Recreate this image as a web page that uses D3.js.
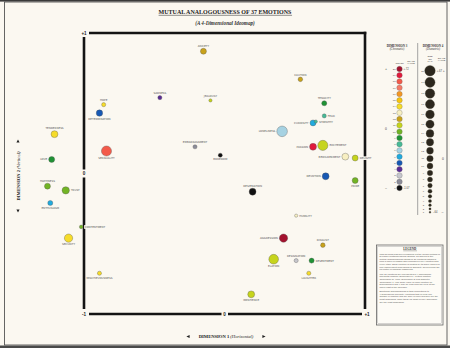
<!DOCTYPE html>
<html><head><meta charset="utf-8">
<script src="https://cdn.jsdelivr.net/npm/d3@7"></script>
<style>body{margin:0;background:#fbf8f1;overflow:hidden}svg{display:block}</style>
</head><body><svg id="c" width="450" height="348"></svg>
<script>
// ---------- DATA ----------
const emotions = ["ANXIETY","SADNESS","JEALOUSY","HOPE","DETERMINATION","SENSUALITY","EMBARRASSMENT","BOREDOM",
  "CAUTION","TENACITY","FEAR","CURIOSITY","SYMPATHY","LONELINESS","PASSION","EXCITEMENT","BEWILDERMENT","DELIGHT",
  "DEVOTION","PRIDE","DESPERATION","HUMILITY","AGGRESSION","DISGUST","ELATION","RESIGNATION","RESENTMENT","LAUGHTER",
  "IMPATIENCE","MISCHIEVOUSNESS","CONTENTMENT","TENDERNESS","LOVE","HAPPINESS","TRUST","ENTHUSIASM","SECURITY"];
// Dimension 1 (horizontal) scale values
const dim1 = [-0.15,-0.46,-0.10,-0.86,-0.89,-0.84,-0.21,-0.03,
  0.54,0.71,0.71,0.63,0.65,0.41,0.63,0.70,0.86,0.93,
  0.72,0.93,0.20,0.51,0.42,0.70,0.35,0.51,0.62,0.60,
  0.19,-0.89,-1.02,-1.21,-1.23,-1.26,-1.13,-1.24,-1.11];
// Dimension 2 (vertical) scale values
const dim2 = [0.87,0.54,0.52,0.49,0.43,0.16,0.19,0.13,
  0.67,0.50,0.41,0.36,0.37,0.30,0.19,0.20,0.12,0.11,
  -0.02,-0.05,-0.13,-0.30,-0.46,-0.51,-0.61,-0.62,-0.62,-0.71,
  -0.86,-0.71,-0.38,0.28,0.10,-0.09,-0.12,-0.21,-0.46];
// Dimension 3 (chromatic) step, 1..20
const dim3 = [12,4,11,14,5,18,2,1,
  12,9,8,6,8,7,19,11,13,11,
  5,10,1,13,20,12,11,3,9,14,
  11,14,10,14,9,10,10,6,14];
// Dimension 4 (diametric) step, 1..20
const dim4 = [10,6,4,6,11,19,6,6,
  7,8,6,10,4,20,12,19,12,10,
  12,10,12,4,15,7,18,6,8,6,
  12,6,5,12,10,10,13,8,15];
const labelSide = ["t","t","t","t","b","b","t","b",
  "t","t","r","l","r","l","l","r","l","r",
  "l","b","t","r","l","t","b","t","r","b",
  "b","b","r","t","l","t","r","b","b"];
const scaleSteps = d3.range(20, 0, -1);
const colorKey = ["#111111","#8c8c98","#c6c6cc","#5a2c94","#1658b4","#20aade","#a6d2e2","#46ba96","#1f9234","#72b424",
  "#c6d41c","#c9a21a","#f7efc2","#f6dc2a","#f8c40c","#f49622","#f57a66","#f35a4a","#e11a3c","#a3122e"];
const axisTickLabels = [{v:"+1",x:-1,y:1},{v:"0",x:-1,y:0},{v:"-1",x:-1,y:-1},{v:"0",x:0,y:-1},{v:"+1",x:1,y:-1}];
const dim3Ends = ["+.72","-1.07"];
const dim4Ends = ["+.67","-.64"];
const legendParas = [
 "This ideomap has been produced via the Crespi Method of Dynamic Multidimensional Scaling, as applied to the mutual analogousness ratings of 37 emotions obtained from a panel of judges who compared every emotion with every other. Each emotion is located by its scale values on four independent dimensions of similarity, derived from the full matrix of pairwise judgments.",
 "The 37 emotions are represented in 4 dimensions: horizontal position (Dimension 1), vertical position (Dimension 2), color (Dimension 3) and diameter (Dimension 4). The scale value of each emotion on Dimensions 3 and 4 may be read from the keys at the upper right of the ideomap.",
 "Emotional analogousness is thus proportional to 4-dimensional proximity: emotions that lie near one another in position and are alike in color and size are the most analogous, while those far apart on any dimension are the least analogous."
];

// ---------- DRAW ----------
const BG = "#fbf8f1";
const svg = d3.select("#c");
svg.append("rect").attr("width",450).attr("height",348).attr("fill",BG);
svg.append("rect").attr("x",0).attr("y",0).attr("width",450).attr("height",1.6).attr("fill","#3a3a3a");
svg.append("rect").attr("x",0).attr("y",345.5).attr("width",450).attr("height",2.5).attr("fill","#4a4a4a");
svg.append("rect").attr("x",4.5).attr("y",2).attr("width",442.5).attr("height",343).attr("fill","none").attr("stroke","#555").attr("stroke-width",0.9);

// Title
const title = svg.append("text").attr("x",225).attr("y",14).attr("text-anchor","middle")
  .attr("font-family","Liberation Serif, serif").attr("font-weight","bold").attr("font-size",6)
  .attr("fill","#222").text("MUTUAL ANALOGOUSNESS OF 37 EMOTIONS");
const tb = title.node().getBBox();
svg.append("line").attr("x1",tb.x).attr("x2",tb.x+tb.width).attr("y1",15.3).attr("y2",15.3).attr("stroke","#222").attr("stroke-width",0.5);
svg.append("text").attr("x",225).attr("y",25).attr("text-anchor","middle")
  .attr("font-family","Liberation Serif, serif").attr("font-weight","bold").attr("font-style","italic").attr("font-size",5.2)
  .attr("fill","#333").text("(A 4-Dimensional Ideomap)");

const x = d3.scaleLinear().domain([-1,1]).range([84,365]);
const y = d3.scaleLinear().domain([-1,1]).range([314,33]);
const color = d3.scaleOrdinal().domain(d3.range(1,21)).range(colorKey);
const rScale = d3.scaleLinear().domain([1,20]).range([0.9,5.3]);

// Frame
const frame = svg.append("g").attr("stroke","#141414").attr("stroke-width",2.6).attr("fill","none");
const seg = (x1,y1,x2,y2)=>frame.append("line").attr("x1",x1).attr("y1",y1).attr("x2",x2).attr("y2",y2);
seg(x(-1)+5, y(1), x(1)+1.3, y(1));
seg(x(1), y(1)-1.3, x(1), y(-1)-5);
seg(x(-1)+5, y(-1), x(0)-3, y(-1));
seg(x(0)+3.5, y(-1), x(1)-3, y(-1));
seg(x(-1), y(1)+4, x(-1), y(0)-4);
seg(x(-1), y(0)+4, x(-1), y(-1)-5);
svg.append("g").selectAll("text").data(axisTickLabels).join("text")
  .attr("x",d=>x(d.x)+(d.x===1?2:0)).attr("y",d=>y(d.y)+1.7).attr("text-anchor","middle")
  .attr("font-family","Liberation Sans, sans-serif").attr("font-weight","bold").attr("font-size",4.6).attr("fill","#222")
  .text(d=>d.v);

// Axis titles
function arrow(g, cx, cy, dir){
  const s=1.6; let p;
  if(dir==='l') p=[[cx-s,cy],[cx+s,cy-s],[cx+s,cy+s]];
  if(dir==='r') p=[[cx+s,cy],[cx-s,cy-s],[cx-s,cy+s]];
  if(dir==='u') p=[[cx,cy-s],[cx-s,cy+s],[cx+s,cy+s]];
  if(dir==='d') p=[[cx,cy+s],[cx-s,cy-s],[cx+s,cy-s]];
  g.append("path").attr("d","M"+p.join("L")+"Z").attr("fill","#222");
}
const xt = svg.append("text").attr("x",226).attr("y",338).attr("text-anchor","middle")
  .attr("font-family","Liberation Serif, serif").attr("font-size",4.6).attr("fill","#222");
xt.append("tspan").attr("font-weight","bold").text("DIMENSION 1 ");
xt.append("tspan").attr("font-style","italic").text("(Horizontal)");
arrow(svg, 188, 336.5, 'l'); arrow(svg, 264, 336.5, 'r');
const yt = svg.append("text").attr("transform","translate(19.5,176) rotate(-90)").attr("text-anchor","middle")
  .attr("font-family","Liberation Serif, serif").attr("font-size",4.6).attr("fill","#222");
yt.append("tspan").attr("font-weight","bold").text("DIMENSION 2 ");
yt.append("tspan").attr("font-style","italic").text("(Vertical)");
arrow(svg, 18, 141, 'u'); arrow(svg, 18, 211, 'd');

// Points
const pts = emotions.map((e,i)=>({name:e,x:dim1[i],y:dim2[i],c:dim3[i],s:dim4[i],side:labelSide[i]}));
const lg = svg.append("g");
pts.forEach(p=>{
  const cx=x(p.x), cy=y(p.y), r=rScale(p.s);
  let tx=cx, ty=cy, anchor="middle";
  if(p.side==="t"){ty=cy-r-1.4;}
  if(p.side==="b"){ty=cy+r+3.2;}
  if(p.side==="l"){tx=cx-r-1.5; ty=cy+1; anchor="end";}
  if(p.side==="r"){tx=cx+r+1.5; ty=cy+1; anchor="start";}
  const bgRect = lg.append("rect").attr("fill",BG);
  const t = lg.append("text").attr("x",tx).attr("y",ty).attr("text-anchor",anchor)
    .attr("font-family","DejaVu Sans, sans-serif").attr("font-size",2.7).attr("fill","#555").text(p.name);
  const b=t.node().getBBox();
  bgRect.attr("x",b.x-0.5).attr("y",b.y+0.3).attr("width",b.width+1).attr("height",b.height-0.4);
});
svg.append("g").selectAll("circle").data(pts).join("circle")
  .attr("cx",d=>x(d.x)).attr("cy",d=>y(d.y)).attr("r",d=>rScale(d.s))
  .attr("fill",d=>color(d.c)).attr("stroke","#555").attr("stroke-width",0.35);

// ---------- Right keys ----------
const keyFont = "Liberation Sans, sans-serif";
function header(cx, l1, l2){
  svg.append("text").attr("x",cx).attr("y",46.5).attr("text-anchor","middle").attr("font-family","Liberation Serif, serif")
    .attr("font-weight","bold").attr("font-size",3.1).attr("fill","#333").text(l1);
  svg.append("text").attr("x",cx).attr("y",50.3).attr("text-anchor","middle").attr("font-family","Liberation Serif, serif")
    .attr("font-style","italic").attr("font-size",3.0).attr("fill","#333").text(l2);
}
header(397,"DIMENSION 3","(Chromatic)");
header(433,"DIMENSION 4","(Diametric)");
svg.append("line").attr("x1",417.7).attr("x2",417.7).attr("y1",43).attr("y2",215).attr("stroke","#9a9a9a").attr("stroke-width",0.9);

function small(xx,yy,txt,anchor,size){
  svg.append("text").attr("x",xx).attr("y",yy).attr("text-anchor",anchor||"middle").attr("font-family",keyFont)
    .attr("font-size",size||2.3).attr("fill","#444").text(txt);
}
// Dim 3 key
small(399.5,63.5,"COLOR");
small(411,61.5,"SCALE"); small(411,64,"VALUE");
const k3 = d3.scaleLinear().domain([20,1]).range([69,188]);
svg.append("g").selectAll("circle").data(scaleSteps).join("circle")
  .attr("cx",399.5).attr("cy",d=>k3(d)).attr("r",2.75).attr("fill",d=>color(d)).attr("stroke","#666").attr("stroke-width",0.3);
scaleSteps.forEach(d=>small(395.5,k3(d)+0.9,d,"end",2.4));
small(386,k3(20)+1.3,"+","middle",3.6);
small(386,k3(10.5)+1.3,"0","middle",3.4);
small(386,k3(1)+1.3,"\u2013","middle",3.6);
small(403.5,k3(20)+0.9,dim3Ends[0],"start",2.6);
small(403.5,k3(1)+0.9,dim3Ends[1],"start",2.6);

// Dim 4 key
small(430,57,"SIZE"); small(430,59.5,"ON"); small(430,62,"MAP");
small(441.5,58.5,"SCALE"); small(441.5,61,"VALUE");
let cyPos = 70.7; const k4 = [];
scaleSteps.forEach((d,i)=>{ if(i>0) cyPos += rScale(scaleSteps[i-1]) + rScale(d) + 1.25; k4.push({d, cy:cyPos}); });
svg.append("g").selectAll("circle").data(k4).join("circle")
  .attr("cx",430).attr("cy",d=>d.cy).attr("r",d=>rScale(d.d)).attr("fill","#2c271d").attr("stroke","#55503f").attr("stroke-width",0.3);
k4.forEach(o=>small(424,o.cy+0.9,o.d,"end",2.4));
small(436.8,k4[0].cy+0.9,dim4Ends[0],"start",2.6);
small(443.8,k4[0].cy+1.2,"+","middle",3.4);
small(443,k4[9].cy+1.2,"0","middle",3.4);
small(433,k4[19].cy+0.9,dim4Ends[1],"start",2.6);
small(442.5,k4[19].cy+1.2,"\u2013","middle",3.4);

// Legend box
const LB = {x:376.5, y:245, w:66.5, h:80};
svg.append("rect").attr("x",LB.x).attr("y",LB.y).attr("width",LB.w).attr("height",LB.h)
  .attr("fill","#fdfbf6").attr("stroke","#666").attr("stroke-width",0.8);
svg.append("rect").attr("x",LB.x+1.3).attr("y",LB.y+1.3).attr("width",LB.w-2.6).attr("height",LB.h-2.6)
  .attr("fill","none").attr("stroke","#999").attr("stroke-width",0.4);
const lt = svg.append("text").attr("x",LB.x+LB.w/2).attr("y",LB.y+5.2).attr("text-anchor","middle")
  .attr("font-family","Liberation Serif, serif").attr("font-weight","bold").attr("font-size",3.1).attr("fill","#333").text("LEGEND");
const ltb = lt.node().getBBox();
svg.append("line").attr("x1",ltb.x).attr("x2",ltb.x+ltb.width).attr("y1",LB.y+5.8).attr("y2",LB.y+5.8).attr("stroke","#333").attr("stroke-width",0.3);
let ly = LB.y+9.5; const maxW = LB.w-6;
legendParas.forEach((para,pi)=>{
  const words = para.split(" "); let line=[];
  let t = svg.append("text").attr("x",LB.x+3).attr("y",ly).attr("font-family",keyFont).attr("font-size",2.35).attr("fill","#555");
  words.forEach(w=>{
    line.push(w); t.text(line.join(" "));
    if(t.node().getComputedTextLength()>maxW && line.length>1){
      line.pop(); t.text(line.join(" ")); ly+=2.65; line=[w];
      t = svg.append("text").attr("x",LB.x+3).attr("y",ly).attr("font-family",keyFont).attr("font-size",2.35).attr("fill","#555").text(w);
    }
  });
  ly += 2.65*1.6;
});
</script></body></html>
